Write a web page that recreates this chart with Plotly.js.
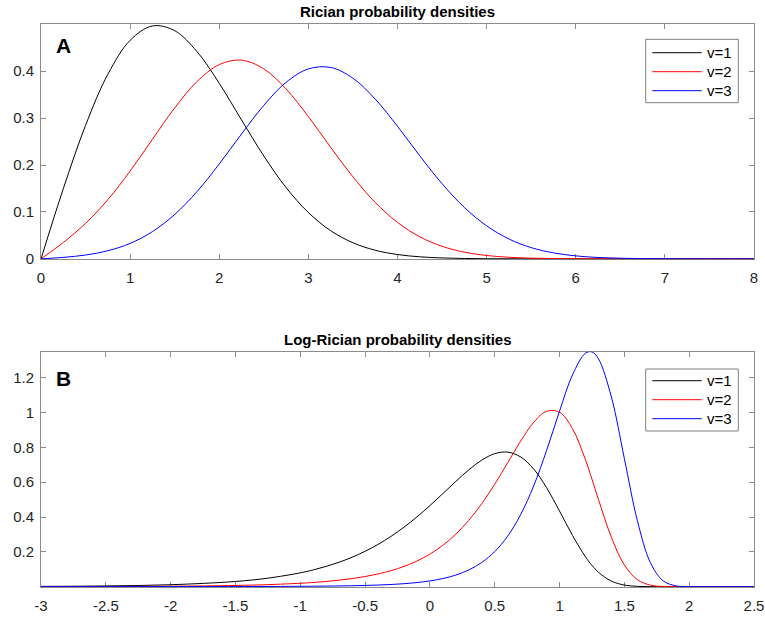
<!DOCTYPE html>
<html><head><meta charset="utf-8">
<script src="https://cdn.plot.ly/plotly-3.0.1.min.js"></script>
<style>html,body{margin:0;padding:0;background:#fff;} #chart{width:765px;height:619px;}</style>
</head><body><div id="chart"></div>
<script>
// ---- data ----
const seriesNames = ['v=1', 'v=2', 'v=3'];
const seriesColors = ['#000000', '#ff0000', '#0000ff'];
const panelTitles = ['Rician probability densities', 'Log-Rician probability densities'];
const panelLetters = ['A', 'B'];

const ricianX = [0,0.25,0.5,0.75,1,1.25,1.5,1.75,2,2.25,2.5,2.75,3,3.25,3.5,3.75,4,4.25,4.5,4.75,5,5.25,5.5,5.75,6,6.25,6.5,6.75,7,7.25,7.5,7.75,8];
const ricianV1 = [0,0.1493,0.2846,0.3934,0.4658,0.4965,0.4864,0.4419,0.3742,0.2961,0.2192,0.1519,0.0987,0.0600,0.0343,0.0183,0.0092,0.0043,0.0019,0.0008,0.0002,0.0001,0,0,0,0,0,0,0,0,0,0,0];
const ricianV2 = [0,0.0349,0.0756,0.1262,0.1871,0.2548,0.3217,0.3779,0.4140,0.4235,0.4049,0.3622,0.3032,0.2378,0.1747,0.1203,0.0776,0.0470,0.0267,0.0142,0.0071,0.0033,0.0015,0.0006,0.0002,0.0001,0.00003,0,0,0,0,0,0];
const ricianV3 = [0,0.0031,0.0081,0.0172,0.0329,0.0580,0.0946,0.1433,0.2022,0.2661,0.3272,0.3763,0.4049,0.4080,0.3851,0.3406,0.2825,0.2196,0.1602,0.1096,0.0703,0.0423,0.0239,0.0127,0.0063,0.0029,0.0013,0.0005,0.0002,0.0001,0.00003,0,0];

const logX = [-3,-2.5,-2,-1.5,-1.25,-1,-0.9,-0.8,-0.7,-0.6,-0.5,-0.4,-0.3,-0.2,-0.1,0,0.1,0.2,0.3,0.4,0.5,0.6,0.7,0.8,0.9,1.0,1.1,1.2,1.25,1.3,1.4,1.5,1.6,1.7,1.8,1.9,2.0,2.1,2.25,2.5];
const logV1 = [0.0015,0.0041,0.0111,0.0298,0.0488,0.0793,0.0962,0.1164,0.1405,0.1692,0.2031,0.2428,0.2889,0.3416,0.4008,0.4658,0.5348,0.6048,0.6711,0.7270,0.7641,0.7731,0.7453,0.6763,0.5685,0.4342,0.2941,0.1714,0.1224,0.0829,0.0318,0.0091,0.0018,0.0002,0,0,0,0,0,0];
const logV2 = [0.0003,0.0009,0.0025,0.0069,0.0116,0.0195,0.0241,0.0299,0.0372,0.0464,0.0581,0.0730,0.0919,0.1162,0.1473,0.1871,0.2378,0.3016,0.3809,0.4768,0.5887,0.7120,0.8362,0.9433,1.0078,1.0023,0.9078,0.7288,0.6178,0.5014,0.2834,0.1249,0.0403,0.0088,0.0012,0.0001,0,0,0,0];
const logV3 = [0.00003,0.0001,0.0002,0.0006,0.0010,0.0019,0.0024,0.0031,0.0040,0.0052,0.0069,0.0092,0.0124,0.0169,0.0235,0.0329,0.0466,0.0666,0.0960,0.1390,0.2014,0.2904,0.4140,0.5783,0.7820,1.0085,1.2171,1.3415,1.3487,1.3096,1.0896,0.7362,0.3804,0.1394,0.0330,0.0045,0.0003,0,0,0];

const ricianXTicks = [0,1,2,3,4,5,6,7,8];
const ricianYTicks = [0,0.1,0.2,0.3,0.4];
const logXTicks = [-3,-2.5,-2,-1.5,-1,-0.5,0,0.5,1,1.5,2,2.5];
const logXTickText = ['-3','-2.5','-2','-1.5','-1','-0.5','0','0.5','1','1.5','2','2.5'];
const logYTicks = [0.2,0.4,0.6,0.8,1,1.2];

// ---- figure ----
const FONT = '"Liberation Sans", Arial, Helvetica, sans-serif';
const AX = '#8c8c8c';
const W = 765, H = 619, ML = 41, MR = 11;
const PW = W - ML - MR;
const px = v => (v - ML) / PW;     // pixel -> paper x
const py = v => 1 - v / H;         // pixel -> paper y

const ricianY = [ricianV1, ricianV2, ricianV3];
const logY = [logV1, logV2, logV3];
const traces = [];
for (let i = 0; i < 3; i++) {
  traces.push({x: ricianX, y: ricianY[i], type: 'scatter', mode: 'lines', name: seriesNames[i], showlegend: false,
    line: {color: seriesColors[i], width: 1, shape: 'spline'}, xaxis: 'x', yaxis: 'y'});
}
for (let i = 0; i < 3; i++) {
  traces.push({x: logX, y: logY[i], type: 'scatter', mode: 'lines', name: seriesNames[i], showlegend: false,
    line: {color: seriesColors[i], width: 1, shape: 'spline'}, xaxis: 'x2', yaxis: 'y2'});
}

function axis(extra) {
  return Object.assign({
    showline: true, mirror: 'ticks', linecolor: AX, linewidth: 1,
    ticks: 'inside', ticklen: 5, tickcolor: AX, tickwidth: 1,
    showgrid: false, zeroline: false, layer: 'below traces', fixedrange: true,
    tickfont: {family: FONT, size: 15, color: '#262626'}, tickmode: 'array'
  }, extra);
}

// manual legends (box + line samples + labels), one per panel
const shapes = [];
const annotations = [];
function addLegend(top, bottom, rowTop, step) {
  shapes.push({type: 'rect', xref: 'paper', yref: 'paper', x0: px(645.7), x1: px(738.3), y0: py(bottom), y1: py(top),
    line: {color: '#808080', width: 1}, fillcolor: '#ffffff', layer: 'above'});
  for (let i = 0; i < seriesNames.length; i++) {
    const ry = rowTop + i * step;
    shapes.push({type: 'line', xref: 'paper', yref: 'paper', x0: px(652.3), x1: px(701.7), y0: py(ry), y1: py(ry),
      line: {color: seriesColors[i], width: 1}, layer: 'above'});
    annotations.push({xref: 'paper', yref: 'paper', x: px(705), y: py(ry), xanchor: 'left', yanchor: 'middle',
      showarrow: false, text: seriesNames[i], font: {family: FONT, size: 15, color: '#000'}});
  }
}
addLegend(39.3, 102.7, 52.7, 19);
addLegend(369, 431, 380.7, 19);

annotations.push(
  {xref: 'paper', yref: 'paper', x: 0.5, y: py(11.5), yanchor: 'middle', xanchor: 'center', showarrow: false,
   text: '<b>' + panelTitles[0] + '</b>', font: {family: FONT, size: 15, color: '#000'}},
  {xref: 'paper', yref: 'paper', x: 0.5, y: py(340), yanchor: 'middle', xanchor: 'center', showarrow: false,
   text: '<b>' + panelTitles[1] + '</b>', font: {family: FONT, size: 15, color: '#000'}},
  {xref: 'paper', yref: 'paper', x: px(63), y: py(45.5), yanchor: 'middle', xanchor: 'center', showarrow: false,
   text: '<b>' + panelLetters[0] + '</b>', font: {family: FONT, size: 21, color: '#000'}},
  {xref: 'paper', yref: 'paper', x: px(63), y: py(378.5), yanchor: 'middle', xanchor: 'center', showarrow: false,
   text: '<b>' + panelLetters[1] + '</b>', font: {family: FONT, size: 21, color: '#000'}}
);

const layout = {
  width: W, height: H,
  margin: {l: ML, r: MR, t: 0, b: 0},
  paper_bgcolor: '#ffffff', plot_bgcolor: '#ffffff',
  showlegend: false,
  xaxis: axis({domain: [0, 1], range: [0, 8], tickvals: ricianXTicks, ticktext: ricianXTicks.map(String), anchor: 'y', ticklabelstandoff: 5}),
  yaxis: axis({domain: [py(259.3), py(24.3)], range: [-0.001, 0.5], tickvals: ricianYTicks, ticktext: ricianYTicks.map(String), anchor: 'x', ticklabelstandoff: 3}),
  xaxis2: axis({domain: [0, 1], range: [-3, 2.5], tickvals: logXTicks, ticktext: logXTickText, anchor: 'y2', ticklabelstandoff: 5}),
  yaxis2: axis({domain: [py(587), py(351.7)], range: [-0.002, 1.35], tickvals: logYTicks, ticktext: logYTicks.map(String), anchor: 'x2', ticklabelstandoff: 3}),
  shapes: shapes,
  annotations: annotations
};

Plotly.newPlot('chart', traces, layout, {displayModeBar: false, staticPlot: true});
</script>
</body></html>
